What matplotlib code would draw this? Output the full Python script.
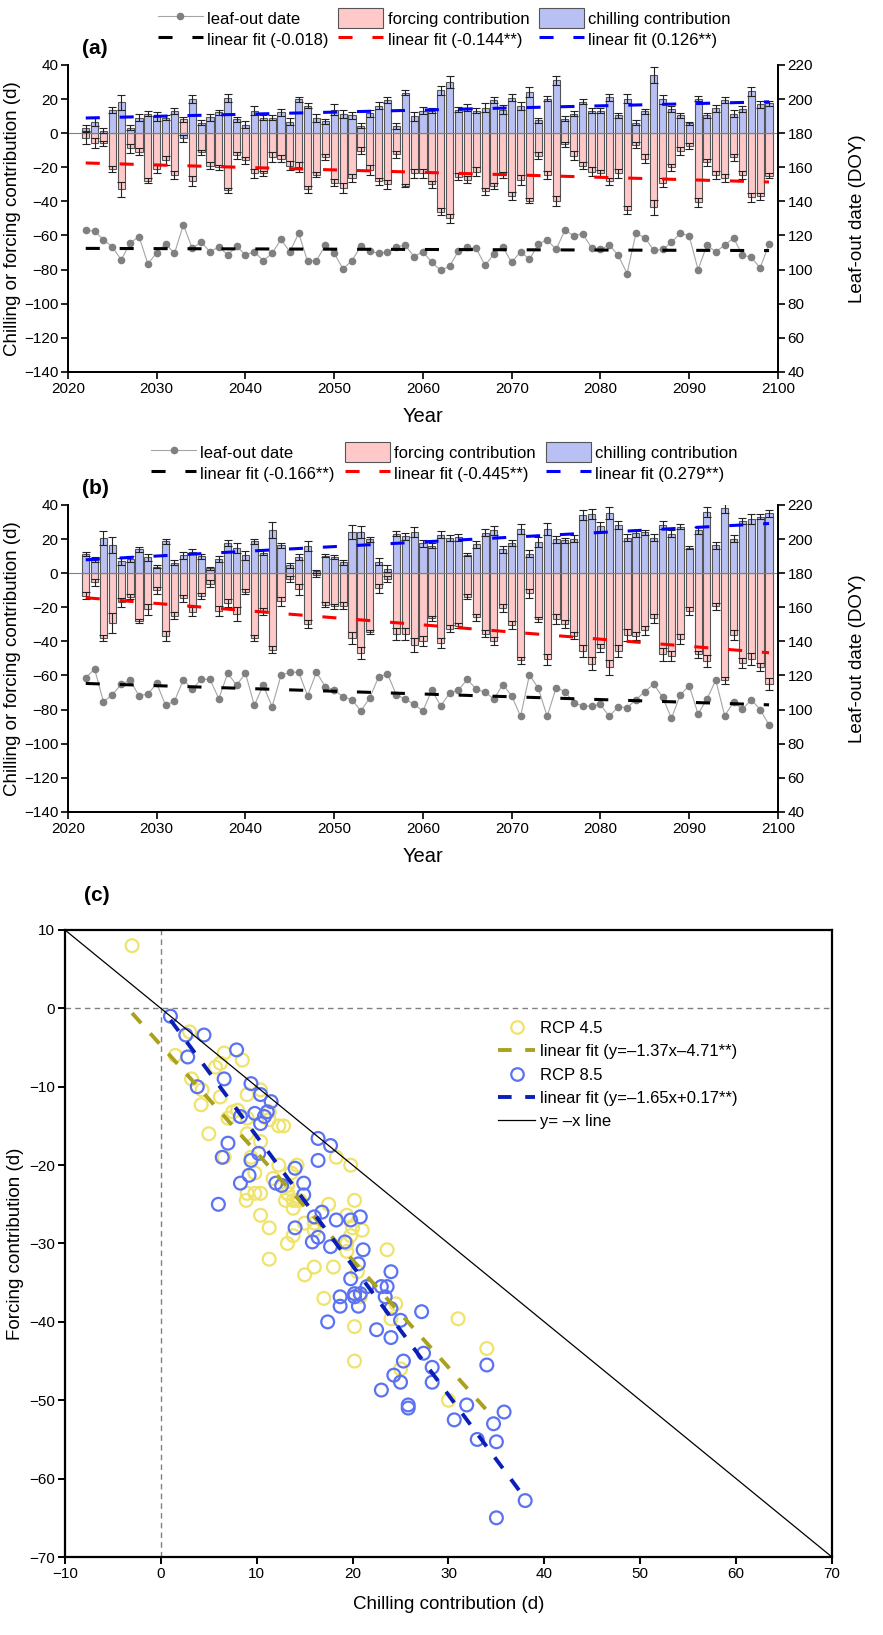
import numpy as np
import matplotlib
matplotlib.use('Agg')
import matplotlib.pyplot as plt
from matplotlib.patches import Patch
from matplotlib.lines import Line2D

plt.rcParams['font.family'] = ['Liberation Sans', 'DejaVu Sans']

years = np.arange(2022, 2100)

# ---------- RCP 4.5 (panel a) ----------
chill_a = [3, 6.6, 1.5, 13.6, 18, 3.2, 9, 11.3, 9.8, 9,
           13, -3, 20, 6.2, 9.4, 12.3, 20.5, 8, 5, 13.2,
           9, 9, 12.3, 6.6, 19.8, 16, 8.9, 7, 13.8, 11.3,
           10.4, 4.3, 11.7, 16, 19.4, 4.2, 23.6, 9.8, 13.2, 13.2,
           25, 30, 13.8, 15, 13.2, 15, 19.4, 13.8, 20.8, 16,
           24, 7.5, 20.2, 31, 8.5, 11.3, 18.3, 13.2, 13.2, 21,
           10.4, 20.2, 6.2, 12.8, 34, 19.8, 14.2, 10.4, 5.7, 20.2,
           10.4, 14.5, 19.4, 11.3, 14.2, 24.5, 17, 17.5]
force_a = [-3, -5.7, -6, -21, -33, -9, -11, -28, -21, -16,
           -24.5, 8, -28, -11.3, -19, -20, -33.6, -13, -16, -23.6,
           -23.6, -14, -15, -19, -20, -33, -24.5, -14, -29, -32,
           -26.4, -10.4, -21.7, -28.3, -30, -12.3, -30.8, -23.6, -23.6, -30,
           -46, -50, -25.5, -27.4, -22.6, -34, -31, -24.5, -36.8, -27.4,
           -39.6, -13.2, -24.5, -39.6, -6.6, -13.2, -19, -22.6, -23.6, -28.3,
           -23.6, -45, -7, -15, -43.4, -29, -20, -10.4, -7.5, -40.6,
           -17, -24.5, -26.4, -14.2, -24.5, -37.7, -37, -25]
err_chill_a = [2.0, 2.5, 1.5, 2.0, 4.5, 1.5, 2.0, 1.5, 2.5, 1.5,
               1.5, 2.0, 2.5, 1.5, 2.0, 1.5, 2.5, 1.5, 2.0, 2.5,
               1.5, 1.5, 2.0, 2.0, 1.5, 1.5, 2.5, 1.5, 3.0, 2.5,
               2.0, 1.5, 2.0, 2.0, 2.0, 2.0, 1.5, 2.5, 2.0, 1.5,
               2.5, 3.5, 1.5, 2.0, 1.5, 2.5, 2.0, 2.5, 2.0, 2.5,
               3.0, 1.5, 1.5, 2.5, 1.5, 1.5, 1.5, 1.5, 1.5, 2.0,
               1.5, 2.5, 1.5, 1.5, 4.5, 2.5, 2.0, 1.5, 1.0, 1.5,
               1.5, 2.0, 2.0, 2.0, 2.0, 2.5, 2.0, 1.5]
err_force_a = [3.5, 3.0, 1.5, 1.5, 4.5, 2.5, 2.0, 1.5, 2.5, 2.5,
               2.5, 1.5, 3.0, 1.5, 2.0, 1.5, 1.5, 2.0, 2.0, 2.5,
               1.5, 3.0, 2.0, 2.5, 3.0, 2.0, 1.5, 2.0, 2.0, 3.0,
               2.5, 2.0, 3.0, 2.0, 2.5, 2.0, 0.8, 2.5, 2.5, 2.0,
               2.0, 2.5, 2.0, 2.0, 2.5, 2.0, 2.0, 2.0, 2.5, 3.0,
               1.5, 2.0, 2.5, 3.0, 1.5, 2.5, 2.0, 2.5, 2.0, 2.0,
               2.5, 2.5, 2.0, 2.5, 4.5, 2.5, 2.0, 2.5, 2.0, 2.5,
               2.0, 2.5, 2.5, 2.0, 2.5, 2.5, 2.0, 1.5]
leaf_a = [123.2, 122.5, 117.5, 113.3, 105.7, 115.6, 119.4, 103.4, 109.9, 115.2,
          109.5, 126.3, 112.4, 116.2, 110.5, 113.3, 108.6, 113.7, 108.6, 110.5,
          105.3, 109.5, 117.7, 110.5, 121.3, 104.8, 105.3, 114.3, 109.5, 100.4,
          105.3, 113.7, 110.9, 109.5, 110.5, 113.3, 114.3, 107.6, 110.5, 104.2,
          99.6, 101.9, 111, 113, 112.4, 102.5, 109.1, 113.3, 104.2, 110.5,
          106, 114.9, 117.5, 111.8, 123.2, 119.8, 121, 112.8, 111.8, 114.5,
          108.4, 97.7, 121.3, 118.7, 111.4, 111.8, 116, 121.3, 119.8, 100,
          114.3, 110.5, 114.3, 118.5, 108.6, 107.2, 101, 115]

# ---------- RCP 8.5 (panel b) ----------
chill_b = [11.1, 7.9, 20.6, 16.4, 7, 8.3, 14, 9.2, 3.8, 18.7,
           6, 10.4, 12.6, 9.8, 2.8, 8.3, 17.7, 14.9, 10.4, 18.7,
           12, 25.3, 16.4, 4.5, 9.4, 15.8, 1, 10.2, 9.4, 6.4,
           24, 24.3, 19.8, 6.6, 2.6, 23, 21.5, 24, 17.4, 16,
           22.5, 20.6, 21.1, 10.8, 16.8, 23.6, 25, 14, 17.7, 25.8,
           11.5, 18.3, 25.8, 19.8, 19.2, 20.2, 34, 34.7, 27.4, 35,
           28.3, 20.8, 23.4, 24, 20.8, 28.3, 23, 27.2, 14.9, 25,
           35.8, 16.4, 38, 20.2, 30.6, 31.9, 33, 35]
force_b = [-13.2, -5.3, -38, -29.2, -17.2, -13.8, -28, -21.3, -10, -36.8,
           -25, -14.7, -22.6, -13.4, -6.2, -22.3, -17.5, -23.8, -11, -38,
           -22.3, -45, -16.6, -3.4, -9.6, -29.8, -1, -18.5, -19.4, -19,
           -38.3, -46.8, -34.5, -9, -3.4, -35.5, -35.5, -42, -40, -26.6,
           -41, -32.6, -30.8, -13.8, -26, -35.5, -39.8, -20.4, -30.4, -51,
           -11.9, -27, -50.6, -27, -29.8, -36.8, -45.5, -53, -44, -55.3,
           -45.8, -36.4, -36.8, -33.6, -26.6, -47.7, -48.7, -38.7, -22.3, -47.7,
           -51.5, -19.4, -62.8, -36.4, -52.5, -50.6, -55, -65]
err_chill_b = [1.0, 1.5, 4.0, 4.5, 2.0, 1.5, 1.5, 2.0, 1.0, 1.5,
               1.5, 2.0, 1.5, 1.5, 0.8, 2.0, 2.0, 3.0, 2.5, 1.5,
               1.5, 4.5, 1.5, 1.5, 2.0, 3.0, 0.8, 1.0, 1.0, 1.5,
               4.0, 3.5, 1.5, 2.0, 2.0, 1.5, 2.0, 3.0, 2.0, 1.5,
               2.0, 1.5, 2.0, 1.0, 2.0, 2.0, 2.5, 2.0, 2.0, 3.0,
               2.0, 3.0, 3.5, 2.0, 1.5, 2.0, 3.0, 3.0, 2.5, 3.5,
               2.5, 2.0, 2.0, 1.5, 2.0, 2.5, 2.0, 1.5, 1.0, 2.0,
               3.0, 2.0, 2.5, 2.0, 2.0, 3.0, 1.5, 2.0]
err_force_b = [2.0, 2.0, 1.5, 6.0, 2.5, 1.5, 1.0, 3.0, 2.0, 3.0,
               2.0, 2.0, 2.5, 1.5, 2.0, 3.0, 2.5, 4.0, 1.5, 2.0,
               2.0, 2.0, 2.5, 2.0, 3.0, 2.5, 1.0, 1.5, 1.5, 2.0,
               3.5, 3.5, 1.0, 2.5, 2.0, 3.5, 3.5, 4.0, 3.0, 1.5,
               3.0, 2.0, 1.5, 1.5, 2.0, 2.0, 2.5, 2.5, 2.5, 2.0,
               2.5, 1.5, 3.0, 3.0, 2.5, 2.0, 3.5, 4.0, 2.5, 4.5,
               3.5, 3.5, 2.5, 2.5, 2.5, 4.0, 3.0, 3.0, 2.5, 2.0,
               3.5, 2.0, 2.0, 3.0, 3.0, 3.5, 2.5, 3.5]
leaf_b = [118.7, 123.8, 104.5, 108.7, 114.9, 117.2, 108.1, 109.1, 115.3, 102.6,
          104.9, 117.5, 111.9, 117.7, 117.7, 106.4, 121.3, 114.3, 121.3, 102.5,
          114.3, 101.7, 120, 121.9, 121.9, 108.1, 121.9, 113.4, 111.5, 107.4,
          105.8, 99.2, 106.8, 119.1, 120.9, 108.7, 106.2, 103, 99.2, 111.5,
          102.1, 109.6, 111.5, 117.7, 111.9, 110.2, 106.2, 114.7, 108.1, 96,
          120.4, 112.5, 96, 112.8, 110.6, 104, 102.1, 102.1, 103, 96,
          101.7, 101.1, 105.8, 110.6, 114.9, 107.4, 94.9, 108.7, 114, 97.4,
          106.2, 117.2, 96.4, 104.3, 100.2, 105.8, 100, 91]

legend_a = ['leaf-out date', 'linear fit (-0.018)', 'forcing contribution',
            'linear fit (-0.144**)', 'chilling contribution', 'linear fit (0.126**)']
legend_b = ['leaf-out date', 'linear fit (-0.166**)', 'forcing contribution',
            'linear fit (-0.445**)', 'chilling contribution', 'linear fit (0.279**)']

# ---------- panel c fits (from legend) ----------
fit45 = (-1.37, -4.71)
fit85 = (-1.65, 0.17)
labels_c = ['RCP 4.5', 'linear fit (y=\u20131.37x\u20134.71**)', 'RCP 8.5',
            'linear fit (y=\u20131.65x+0.17**)', 'y= \u2013x line']

for arr in (chill_a, force_a, err_chill_a, err_force_a, leaf_a,
            chill_b, force_b, err_chill_b, err_force_b, leaf_b):
    assert len(arr) == len(years), len(arr)

PINK = '#ffc9c9'
LBLUE = '#b9c1f4'
DASH = (0, (4.6, 6.5))

fig = plt.figure(figsize=(8.83, 16.35), dpi=100)
ax_a = fig.add_axes([0.077, 0.7725, 0.804, 0.1878])
ax_b = fig.add_axes([0.077, 0.5034, 0.804, 0.1878])
ax_c = fig.add_axes([0.0736, 0.0477, 0.8686, 0.3835])

TICK_FS = 11
LAB_FS = 13.5


def bar_panel(ax, chill, e_chill, force, e_force, leaf, labels, tag, leg_y):
    ax.bar(years, force, width=0.8, color=PINK, edgecolor='#555555', linewidth=0.8, zorder=2)
    ax.bar(years, chill, width=0.8, color=LBLUE, edgecolor='#555555', linewidth=0.8, zorder=2)
    ax.errorbar(years, force, yerr=e_force, fmt='none', ecolor='#222222',
                elinewidth=0.8, capsize=3, capthick=0.8, zorder=3)
    ax.errorbar(years, chill, yerr=e_chill, fmt='none', ecolor='#222222',
                elinewidth=0.8, capsize=3, capthick=0.8, zorder=3)
    ax.axhline(0, color='#808080', lw=0.8, zorder=2.5)
    pf = np.polyfit(years, force, 1)
    pc = np.polyfit(years, chill, 1)
    ax.plot(years, np.polyval(pf, years), color='#ff0000', lw=2.2, ls=DASH, zorder=4)
    ax.plot(years, np.polyval(pc, years), color='#0000ff', lw=2.2, ls=DASH, zorder=4)
    ax.set_xlim(2020, 2100)
    ax.set_ylim(-140, 40)
    ax.set_xticks(np.arange(2020, 2101, 10))
    ax.set_yticks(np.arange(-140, 41, 20))
    ax.spines['top'].set_visible(False)
    for s in ax.spines.values():
        s.set_linewidth(1.3)
    ax.tick_params(direction='out', length=5, width=1.2, labelsize=TICK_FS, pad=2)
    ax.set_xlabel('Year', fontsize=LAB_FS + 1, labelpad=8)
    ax.set_ylabel('Chilling or forcing contribution (d)', fontsize=LAB_FS, labelpad=2)

    ax2 = ax.twinx()
    ax2.plot(years, leaf, color='#a5a5a5', lw=0.8, marker='o', ms=4.5,
             mfc='#808080', mec='#808080', zorder=3)
    pl = np.polyfit(years, leaf, 1)
    ax2.plot(years, np.polyval(pl, years), color='black', lw=2.2, ls=DASH, zorder=4)
    ax2.set_ylim(40, 220)
    ax2.set_yticks(np.arange(40, 221, 20))
    ax2.spines['top'].set_visible(False)
    for s in ax2.spines.values():
        s.set_linewidth(1.3)
    ax2.tick_params(direction='out', length=5, width=1.2, labelsize=TICK_FS, pad=2)
    ax2.set_ylabel('Leaf-out date (DOY)', fontsize=LAB_FS, labelpad=26)

    handles = [
        Line2D([], [], color='#a5a5a5', lw=0.8, marker='o', ms=4.5, mfc='#808080', mec='#808080'),
        Line2D([], [], color='black', lw=2.2, ls=DASH),
        Patch(facecolor=PINK, edgecolor='#555555', lw=0.8),
        Line2D([], [], color='#ff0000', lw=2.2, ls=DASH),
        Patch(facecolor=LBLUE, edgecolor='#555555', lw=0.8),
        Line2D([], [], color='#0000ff', lw=2.2, ls=DASH),
    ]
    ax2.legend(handles, labels, ncol=3, loc='lower center', bbox_to_anchor=(0.53, leg_y),
               frameon=False, fontsize=12, handlelength=2.7, handleheight=1.5,
               columnspacing=0.6, handletextpad=0.25, labelspacing=0.05, numpoints=1,
               borderaxespad=0, borderpad=0)
    ax.text(0.02, 1.055, tag, transform=ax.transAxes, fontsize=15, fontweight='bold',
            ha='left', va='center')


bar_panel(ax_a, chill_a, err_chill_a, force_a, err_force_a, leaf_a, legend_a, '(a)', 1.05)
bar_panel(ax_b, chill_b, err_chill_b, force_b, err_force_b, leaf_b, legend_b, '(b)', 1.07)

# ---------- panel c ----------
ax = ax_c
ax.axhline(0, color='#808080', lw=1.0, ls=(0, (4, 3)), zorder=1)
ax.axvline(0, color='#808080', lw=1.0, ls=(0, (4, 3)), zorder=1)
ax.scatter(chill_a, force_a, s=85, facecolors='none', edgecolors='#efe36c',
           linewidths=1.6, zorder=2)
ax.scatter(chill_b, force_b, s=85, facecolors='none', edgecolors='#5b72f2',
           linewidths=1.6, zorder=3)
xa = np.array([min(chill_a), max(chill_a)])
xb = np.array([min(chill_b), max(chill_b)])
ax.plot(xa, fit45[0] * xa + fit45[1], color='#aaa21f', lw=2.8, ls=(0, (3.5, 3.5)), zorder=4)
ax.plot(xb, fit85[0] * xb + fit85[1], color='#0a1fb8', lw=2.8, ls=(0, (3.5, 3.5)), zorder=4)
ax.plot([-10, 70], [10, -70], color='black', lw=0.9, zorder=4)
ax.set_xlim(-10, 70)
ax.set_ylim(-70, 10)
ax.set_xticks(np.arange(-10, 71, 10))
ax.set_yticks(np.arange(-70, 11, 10))
for s in ax.spines.values():
    s.set_linewidth(1.6)
ax.tick_params(direction='out', length=5, width=1.4, labelsize=TICK_FS, pad=2)
ax.set_xlabel('Chilling contribution (d)', fontsize=LAB_FS, labelpad=11)
ax.set_ylabel('Forcing contribution (d)', fontsize=LAB_FS, labelpad=4)
ax.text(0.025, 1.055, '(c)', transform=ax.transAxes, fontsize=15, fontweight='bold',
        ha='left', va='center')
handles_c = [
    Line2D([], [], ls='none', marker='o', ms=9, mfc='none', mec='#efe36c', mew=1.6),
    Line2D([], [], color='#aaa21f', lw=2.8, ls=(0, (3.5, 3.5))),
    Line2D([], [], ls='none', marker='o', ms=9, mfc='none', mec='#5b72f2', mew=1.6),
    Line2D([], [], color='#0a1fb8', lw=2.8, ls=(0, (3.5, 3.5))),
    Line2D([], [], color='black', lw=0.9),
]
ax.legend(handles_c, labels_c, loc='upper left', bbox_to_anchor=(0.565, 0.855),
          frameon=False, fontsize=12, handlelength=2.2, handletextpad=0.3,
          labelspacing=0.5, numpoints=1, borderpad=0, borderaxespad=0)

fig.savefig('out.png', dpi=100)
